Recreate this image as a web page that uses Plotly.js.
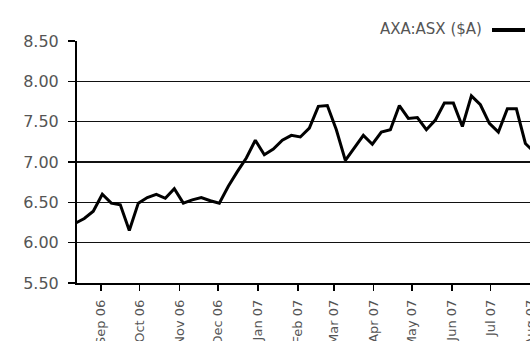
<!DOCTYPE html>
<html>
<head>
<meta charset="utf-8">
<script src="https://cdn.plot.ly/plotly-3.0.1.min.js"></script>
<style>
  html, body { margin: 0; padding: 0; background: #fff; overflow: hidden; }
  #chart { width: 560px; height: 341px; }
</style>
</head>
<body>
<div id="chart"></div>
<script>
// Weekly closing price of AXA:ASX in Australian dollars
const weekDates = [
  '2006-08-12','2006-08-19','2006-08-26','2006-09-02','2006-09-09','2006-09-16',
  '2006-09-23','2006-09-30','2006-10-07','2006-10-14','2006-10-21','2006-10-28',
  '2006-11-04','2006-11-11','2006-11-18','2006-11-25','2006-12-02','2006-12-09',
  '2006-12-16','2006-12-23','2006-12-30','2007-01-06','2007-01-13','2007-01-20',
  '2007-01-27','2007-02-03','2007-02-10','2007-02-17','2007-02-24','2007-03-03',
  '2007-03-10','2007-03-17','2007-03-24','2007-03-31','2007-04-07','2007-04-14',
  '2007-04-21','2007-04-28','2007-05-05','2007-05-12','2007-05-19','2007-05-26',
  '2007-06-02','2007-06-09','2007-06-16','2007-06-23','2007-06-30','2007-07-07',
  '2007-07-14','2007-07-21','2007-07-28','2007-08-04'
];
const closePrice = [
  6.24, 6.30, 6.39, 6.60, 6.49, 6.47,
  6.15, 6.49, 6.56, 6.60, 6.55, 6.67,
  6.49, 6.53, 6.56, 6.52, 6.49, 6.70,
  6.88, 7.05, 7.27, 7.09, 7.16, 7.27,
  7.33, 7.31, 7.42, 7.69, 7.70, 7.40,
  7.02, 7.18, 7.33, 7.22, 7.37, 7.40,
  7.70, 7.54, 7.55, 7.40, 7.52, 7.73,
  7.73, 7.44, 7.82, 7.71, 7.48, 7.37,
  7.66, 7.66, 7.23, 7.12
];
const seriesName = 'AXA:ASX ($A)';
const yTicks = [5.5, 6.0, 6.5, 7.0, 7.5, 8.0, 8.5];

// plot frame in pixels
const W = 560, H = 341;
const M = { l: 77, r: 12, t: 41, b: 58 };
const plotW = W - M.l - M.r, plotH = H - M.t - M.b;
const px = x => (x - M.l) / plotW;        // page x -> paper x
const py = y => (H - M.b - y) / plotH;    // page y -> paper y

const tickFont = { family: 'DejaVu Sans, Liberation Sans, Arial, sans-serif', color: '#555' };

const trace = {
  type: 'scatter',
  mode: 'lines',
  x: weekDates,
  y: closePrice,
  name: seriesName,
  line: { color: '#000', width: 3 },
  hoverinfo: 'x+y'
};

const layout = {
  width: W, height: H,
  margin: M,
  paper_bgcolor: '#fff',
  plot_bgcolor: '#fff',
  showlegend: false,
  xaxis: {
    type: 'date',
    range: ['2006-08-13 08:00', '2007-08-14 14:00'],
    tick0: '2006-09-01', dtick: 'M1',
    tickformat: '%b %y',
    tickangle: -90,
    ticks: 'outside', ticklen: 6, tickwidth: 1.5, tickcolor: '#000',
    ticklabelstandoff: 4,
    tickfont: Object.assign({ size: 13 }, tickFont),
    showgrid: false,
    showline: true, linecolor: '#000', linewidth: 1.5,
    zeroline: false
  },
  yaxis: {
    range: [5.5, 8.5],
    tickvals: yTicks,
    tickformat: '.2f',
    ticks: 'outside', ticklen: 7, tickwidth: 1.5, tickcolor: '#000',
    ticklabelstandoff: 6,
    tickfont: Object.assign({ size: 16 }, tickFont),
    showgrid: true, gridcolor: '#111', gridwidth: 1.3,
    showline: true, linecolor: '#000', linewidth: 2,
    zeroline: false
  },
  annotations: [{
    xref: 'paper', yref: 'paper',
    x: px(484), y: py(29),
    xanchor: 'right', yanchor: 'middle',
    text: seriesName, showarrow: false,
    font: { family: 'DejaVu Sans, Liberation Sans, Arial, sans-serif', size: 15, color: '#555' }
  }],
  shapes: [{
    type: 'line', xref: 'paper', yref: 'paper',
    x0: px(492), x1: px(525), y0: py(30), y1: py(30),
    line: { color: '#000', width: 4 }
  }]
};

Plotly.newPlot('chart', [trace], layout, { displayModeBar: false, staticPlot: true });
</script>
</body>
</html>
